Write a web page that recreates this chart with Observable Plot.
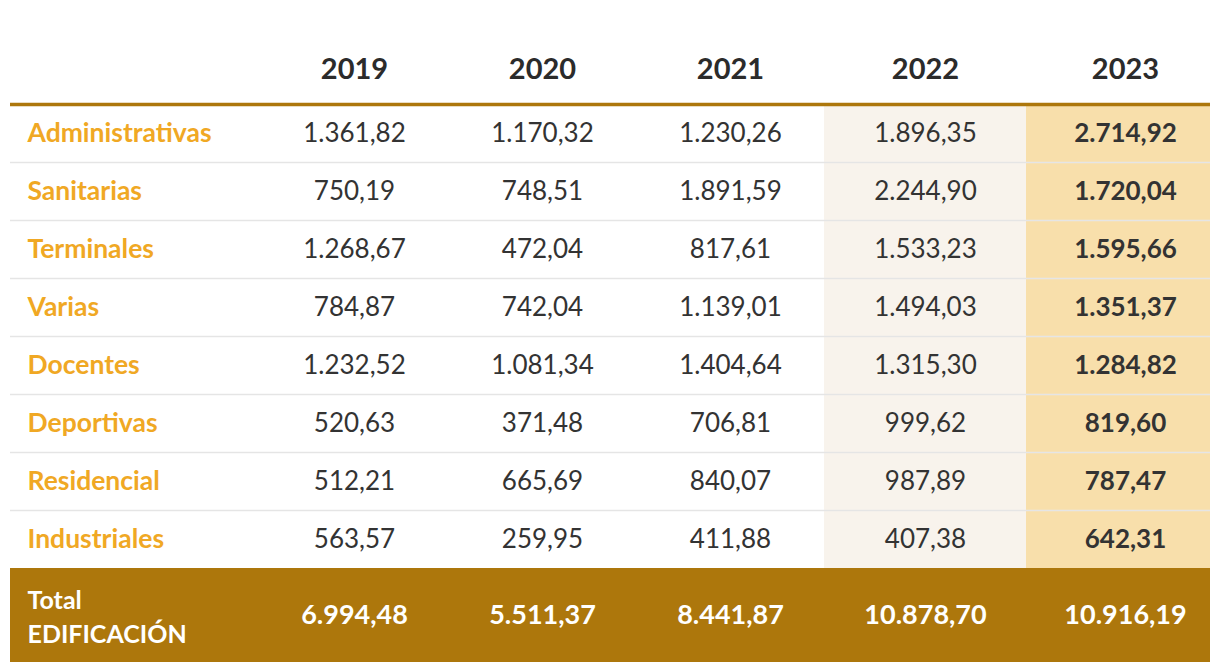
<!DOCTYPE html>
<html>
<head>
<meta charset="utf-8">
<script src="https://cdn.jsdelivr.net/npm/d3@7"></script>
<script src="https://cdn.jsdelivr.net/npm/@observablehq/plot@0.6"></script>
<style>
  html, body { margin: 0; padding: 0; background: #fff; }
  #chart svg { display: block; }
</style>
</head>
<body>
<div id="chart"></div>
<script>
const years = ["2019", "2020", "2021", "2022", "2023"];
const categories = ["Administrativas", "Sanitarias", "Terminales", "Varias", "Docentes", "Deportivas", "Residencial", "Industriales"];
const v2019 = [1361.82, 750.19, 1268.67, 784.87, 1232.52, 520.63, 512.21, 563.57];
const v2020 = [1170.32, 748.51, 472.04, 742.04, 1081.34, 371.48, 665.69, 259.95];
const v2021 = [1230.26, 1891.59, 817.61, 1139.01, 1404.64, 706.81, 840.07, 411.88];
const v2022 = [1896.35, 2244.90, 1533.23, 1494.03, 1315.30, 999.62, 987.89, 407.38];
const v2023 = [2714.92, 1720.04, 1595.66, 1351.37, 1284.82, 819.60, 787.47, 642.31];
const totals = [6994.48, 5511.37, 8441.87, 10878.70, 10916.19];
const totalLabel = "Total\nEDIFICACIÓN";

const series = [v2019, v2020, v2021, v2022, v2023];
const fmt = d3.formatLocale({decimal: ",", thousands: ".", grouping: [3], currency: ["", "€"]}).format(",.2f");

const cells = [];
series.forEach((vals, c) => vals.forEach((v, r) => cells.push({col: c, row: r, year: years[c], value: v})));
const headers = years.map((y, c) => ({col: c, year: y}));
const rows = categories.map((name, r) => ({row: r, name}));
const totalCells = totals.map((v, c) => ({col: c, value: v}));
const nRows = categories.length;

const gold = "#AD770C";
const font = "Lato, 'Open Sans', sans-serif";

const chart = Plot.plot({
  width: 1220,
  height: 672,
  margin: 0,
  style: {fontFamily: font, background: "#fff"},
  x: {
    type: "linear",
    domain: [0, 1, 2, 3, 4, 5, 5.5, 6],
    range: [10, 260, 448, 636, 824, 1026, 1125, 1210],
    axis: null
  },
  y: {
    type: "linear",
    domain: [-1, 0, 1, 2, 3, 4, 5, 6, 7, 8, 9],
    range: [35, 104, 162, 220, 278, 336, 394, 452, 510, 568, 662],
    axis: null
  },
  marks: [
    Plot.rect(headers.filter(d => d.col >= 3), {
      x1: d => d.col + 1, x2: d => d.col + 2, y1: 0, y2: nRows,
      fill: d => d.col === 4 ? "#F8DFAB" : "#F8F3EC"
    }),
    Plot.ruleY(d3.range(1, nRows), {x1: 0, x2: 6, stroke: "#E5E5E5", strokeWidth: 1.5}),
    Plot.ruleY([0], {x1: 0, x2: 6, stroke: gold, strokeWidth: 3.5}),
    Plot.rect([nRows], {x1: 0, x2: 6, y1: d => d, y2: d => d + 1, fill: gold}),
    Plot.text(headers, {
      x: d => d.col + 1.5, y: -0.5, text: "year",
      fontSize: 29, fontWeight: "bold", fill: "#2b2b2b"
    }),
    Plot.text(rows, {
      x: 0, y: d => d.row + 0.5, text: "name", dx: 17,
      textAnchor: "start", fontSize: 26.5, fontWeight: "bold", fill: "#F0A824"
    }),
    Plot.text(cells.filter(d => d.col < 4), {
      x: d => d.col + 1.5, y: d => d.row + 0.5, text: d => fmt(d.value),
      fontSize: 26, fill: "#333"
    }),
    Plot.text(cells.filter(d => d.col === 4), {
      x: d => d.col + 1.5, y: d => d.row + 0.5, text: d => fmt(d.value),
      fontSize: 26, fontWeight: "bold", fill: "#333"
    }),
    Plot.text([totalLabel], {
      x: 0, y: nRows + 0.5, text: d => d, dx: 17, textAnchor: "start",
      lineHeight: 1.36, fontSize: 25, fontWeight: "bold", fill: "#fff"
    }),
    Plot.text(totalCells, {
      x: d => d.col + 1.5, y: nRows + 0.5, text: d => fmt(d.value),
      fontSize: 27, fontWeight: "bold", fill: "#fff"
    })
  ]
});
document.getElementById("chart").appendChild(chart);
</script>
</body>
</html>
